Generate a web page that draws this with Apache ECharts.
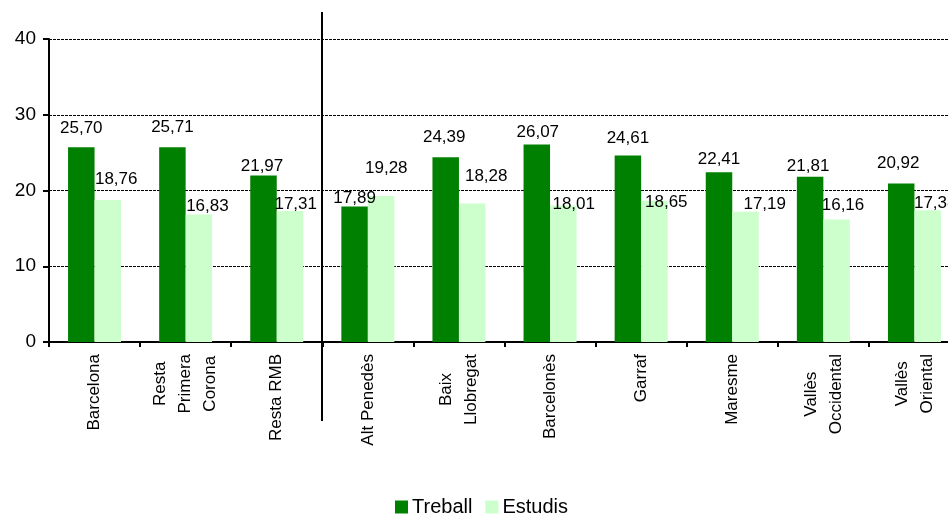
<!DOCTYPE html>
<html>
<head>
<meta charset="utf-8">
<script src="https://cdn.jsdelivr.net/npm/echarts@6/dist/echarts.min.js"></script>
<style>
html,body{margin:0;padding:0;background:#fff;overflow:hidden;width:948px;height:515px;}
#chart{width:960px;height:515px;}
</style>
</head>
<body>
<div id="chart"></div>
<script>
const categories = ['Barcelona', 'Resta\nPrimera\nCorona', 'Resta RMB', 'Alt Penedès', 'Baix\nLlobregat', 'Barcelonès', 'Garraf', 'Maresme', 'Vallès\nOccidental', 'Vallès\nOriental'];
const treball = [25.70, 25.71, 21.97, 17.89, 24.39, 26.07, 24.61, 22.41, 21.81, 20.92];
const estudis = [18.76, 16.83, 17.31, 19.28, 18.28, 18.01, 18.65, 17.19, 16.16, 17.38];
const seriesNames = ['Treball', 'Estudis'];
const yMin = 0, yMax = 40, yStep = 10;

// label placement tweaks (styling only)
const treballLabelOffsets = [[0,-11],[0,-11],[-1.5,-1],[0,0],[-1.5,-11],[1,-4],[0,-9],[0,-4],[-2,-2],[-3,-12]];
const estudisLabelOffsets = [[8.4,-12],[8.5,0],[5.7,2],[5.2,-19.6],[14,-18.8],[10.4,7.4],[11.9,9.6],[19.2,1.2],[6.4,-5.6],[7.5,1]];

const FONT = 'Arial, "Liberation Sans", sans-serif';
const fmt = v => v.toFixed(2).replace('.', ',');

function withLabels(values, offsets) {
  return values.map((v, i) => ({
    value: v,
    label: { offset: offsets[i] }
  }));
}

const chart = echarts.init(document.getElementById('chart'), null, { renderer: 'canvas', width: 960, height: 515 });

const GRID = { left: 49, top: 39, right: 0, bottom: 173 };

const labelStyle = {
  show: true,
  position: 'top',
  distance: 0,
  fontSize: 17,
  fontFamily: FONT,
  color: '#000',
  formatter: p => fmt(p.value)
};

chart.setOption({
  animation: false,
  backgroundColor: '#fff',
  grid: GRID,
  legend: {
    data: seriesNames,
    left: 390,
    top: 492,
    icon: 'rect',
    itemWidth: 13,
    itemHeight: 13,
    itemGap: 13,
    textStyle: { fontSize: 20, fontFamily: FONT, color: '#000', padding: [0, 0, 0, -1] }
  },
  xAxis: {
    type: 'category',
    data: categories,
    axisLine: { lineStyle: { color: '#000', width: 2 } },
    axisTick: { show: true, length: 5, lineStyle: { color: '#000', width: 2 } },
    axisLabel: {
      rotate: 90,
      margin: 12,
      interval: 0,
      color: '#000',
      fontSize: 17,
      fontFamily: FONT,
      formatter: v => v.split('\n').map(s => '{c|' + s + '}').join('\n'),
      rich: { c: { align: 'center', fontSize: 17, lineHeight: 25, fontFamily: FONT, color: '#000' } }
    }
  },
  yAxis: {
    type: 'value',
    min: yMin,
    max: yMax,
    interval: yStep,
    axisLine: { show: true, lineStyle: { color: '#000', width: 2 } },
    axisTick: { show: true, length: 6, lineStyle: { color: '#000', width: 2 } },
    axisLabel: { color: '#000', fontSize: 19, fontFamily: FONT, margin: 13 },
    splitLine: { show: true, lineStyle: { color: '#000', width: 1, type: [3, 1] } }
  },
  series: [
    {
      name: seriesNames[0],
      type: 'bar',
      barWidth: 26.5,
      barGap: '0%',
      itemStyle: { color: '#008000' },
      label: labelStyle,
      data: withLabels(treball, treballLabelOffsets)
    },
    {
      name: seriesNames[1],
      type: 'bar',
      barWidth: 26.5,
      barGap: '0%',
      itemStyle: { color: '#CCFFCC' },
      label: labelStyle,
      data: withLabels(estudis, estudisLabelOffsets)
    }
  ]
});

// vertical separator between the RMB group and the counties
const xa = chart.convertToPixel({ xAxisIndex: 0 }, categories[2]);
const xb = chart.convertToPixel({ xAxisIndex: 0 }, categories[3]);
const sepX = Math.round((xa + xb) / 2);
const yTop = chart.convertToPixel({ yAxisIndex: 0 }, yMax);
const yBot = chart.convertToPixel({ yAxisIndex: 0 }, yMin);
chart.setOption({
  graphic: [{
    type: 'line',
    shape: { x1: sepX, y1: yTop - 27, x2: sepX, y2: yBot + 79 },
    style: { stroke: '#000', lineWidth: 2 },
    z: 100
  }]
});
</script>
</body>
</html>
